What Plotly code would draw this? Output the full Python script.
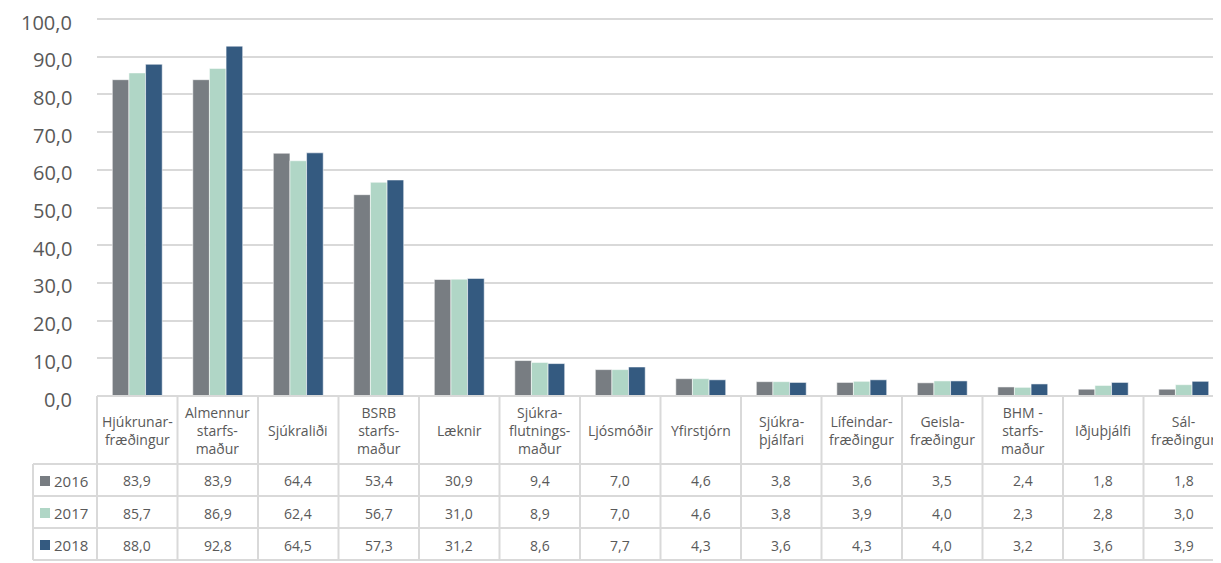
import plotly.graph_objects as go

categories = [
    "Hjúkrunar-<br>fræðingur",
    "Almennur<br>starfs-<br>maður",
    "Sjúkraliði",
    "BSRB<br>starfs-<br>maður",
    "Læknir",
    "Sjúkra-<br>flutnings-<br>maður",
    "Ljósmóðir",
    "Yfirstjórn",
    "Sjúkra-<br>þjálfari",
    "Lífeindar-<br>fræðingur",
    "Geisla-<br>fræðingur",
    "BHM -<br>starfs-<br>maður",
    "Iðjuþjálfi",
    "Sál-<br>fræðingur",
]
years = ["2016", "2017", "2018"]
values_2016 = [83.9, 83.9, 64.4, 53.4, 30.9, 9.4, 7.0, 4.6, 3.8, 3.6, 3.5, 2.4, 1.8, 1.8]
values_2017 = [85.7, 86.9, 62.4, 56.7, 31.0, 8.9, 7.0, 4.6, 3.8, 3.9, 4.0, 2.3, 2.8, 3.0]
values_2018 = [88.0, 92.8, 64.5, 57.3, 31.2, 8.6, 7.7, 4.3, 3.6, 4.3, 4.0, 3.2, 3.6, 3.9]
colors = ["#787d82", "#b0d6c6", "#345a80"]
y_tickvals = [0, 10, 20, 30, 40, 50, 60, 70, 80, 90, 100]

series = [values_2016, values_2017, values_2018]

# the page body has an 8px margin, so the figure sits 8px in from the window corner
OFF = 8
W, H = 1221 - OFF, 563 - OFF
plot_left, plot_top, plot_bottom = 97 - OFF, 5, 396 - OFF
col_w = 80.5
plot_w = W - plot_left
plot_h = plot_bottom - plot_top
# 0 sits at y=396 and 100 at y=19 in the window; extend range to the plot top
px_per_unit = (396 - 19) / 100
y_max = plot_h / px_per_unit
n = len(categories)
x_idx = list(range(n))


def px_x(p):
    # p in window pixels
    return (p - OFF - plot_left) / plot_w


def px_y(p):
    return (plot_bottom - (p - OFF)) / plot_h


def fmt(v):
    return f"{v:.1f}".replace(".", ",")


fig = go.Figure()
for year, vals, col in zip(years, series, colors):
    fig.add_trace(
        go.Bar(
            x=x_idx,
            y=vals,
            name=year,
            marker=dict(color=col, line=dict(color="rgba(255,255,255,0.55)", width=1)),
            hoverinfo="skip",
        )
    )

grid_col = "#d9d9d9"
text_col = "#595959"
font_family = "Open Sans, Noto Sans, sans-serif"

shapes = []
annotations = []

# y tick labels as annotations (plotly drops the top one so close to the edge)
for t in y_tickvals:
    annotations.append(dict(
        xref="paper", yref="y", x=0, y=t, xshift=-23, yshift=-3,
        text=fmt(t), showarrow=False, xanchor="right", yanchor="middle",
        font=dict(size=20, color=text_col, family=font_family),
    ))

# table lines (window pixel positions)
header_top, header_bot = 396, 464
row_lines = [464, 496, 528, 560]
legend_left = 33
shapes.append(dict(type="line", xref="paper", yref="paper",
                   x0=0, x1=1.01, y0=px_y(header_top), y1=px_y(header_top),
                   line=dict(color=grid_col, width=2)))
for ry in row_lines:
    shapes.append(dict(type="line", xref="paper", yref="paper",
                       x0=px_x(legend_left), x1=1.01, y0=px_y(ry), y1=px_y(ry),
                       line=dict(color=grid_col, width=2)))
for k in range(n + 1):
    xp = px_x(97 + k * col_w)
    shapes.append(dict(type="line", xref="paper", yref="paper",
                       x0=xp, x1=xp, y0=px_y(header_top), y1=px_y(row_lines[-1]),
                       line=dict(color=grid_col, width=2)))
shapes.append(dict(type="line", xref="paper", yref="paper",
                   x0=px_x(legend_left), x1=px_x(legend_left),
                   y0=px_y(header_bot), y1=px_y(row_lines[-1]),
                   line=dict(color=grid_col, width=2)))

# header labels
for i, cat in enumerate(categories):
    annotations.append(dict(
        xref="paper", yref="paper",
        x=px_x(97 + (i + 0.5) * col_w), y=px_y((header_top + header_bot) / 2),
        text=cat, showarrow=False, xanchor="center", yanchor="middle",
        font=dict(size=14, color=text_col, family=font_family),
    ))

# value rows with legend keys
for r, (year, vals, col) in enumerate(zip(years, series, colors)):
    cy = (row_lines[r] + row_lines[r + 1]) / 2
    shapes.append(dict(type="rect", xref="paper", yref="paper",
                       x0=px_x(40), x1=px_x(50), y0=px_y(cy - 4), y1=px_y(cy + 6),
                       fillcolor=col, line=dict(width=0)))
    annotations.append(dict(
        xref="paper", yref="paper", x=px_x(52), y=px_y(cy + 1),
        text=year, showarrow=False, xanchor="left", yanchor="middle",
        font=dict(size=15, color=text_col, family=font_family),
    ))
    for i, v in enumerate(vals):
        annotations.append(dict(
            xref="paper", yref="paper",
            x=px_x(97 + (i + 0.5) * col_w), y=px_y(cy + 1),
            text=fmt(v), showarrow=False, xanchor="center", yanchor="middle",
            font=dict(size=14, color=text_col, family=font_family),
        ))

fig.update_layout(
    width=W,
    height=H,
    margin=dict(l=plot_left, r=0, t=plot_top, b=H - plot_bottom, pad=0),
    paper_bgcolor="white",
    plot_bgcolor="rgba(0,0,0,0)",
    separators=",.",
    barmode="group",
    bargap=0.38,
    bargroupgap=0,
    showlegend=False,
    xaxis=dict(
        range=[-0.5, -0.5 + plot_w / col_w],
        showticklabels=False,
        showgrid=False,
        zeroline=False,
        showline=False,
        fixedrange=True,
    ),
    yaxis=dict(
        range=[0, y_max],
        tickmode="array",
        tickvals=y_tickvals,
        showticklabels=False,
        gridcolor=grid_col,
        gridwidth=1.5,
        zeroline=False,
        showline=False,
        ticks="",
        fixedrange=True,
    ),
    shapes=shapes,
    annotations=annotations,
)

fig.write_html("out.html")
